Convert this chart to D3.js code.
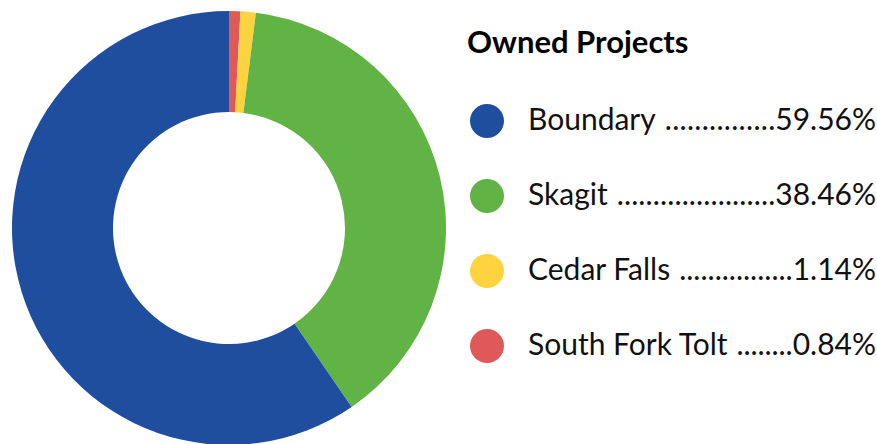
<!DOCTYPE html>
<html>
<head>
<meta charset="utf-8">
<script src="https://cdn.jsdelivr.net/npm/d3@7"></script>
<style>
  html, body { margin: 0; padding: 0; background: #ffffff; }
  svg { display: block; }
</style>
</head>
<body>
<svg id="chart" width="877" height="444"></svg>
<script>
const title = "Owned Projects";
const categories = ["Boundary", "Skagit", "Cedar Falls", "South Fork Tolt"];
const values = [59.56, 38.46, 1.14, 0.84];
const labels = ["59.56%", "38.46%", "1.14%", "0.84%"];
const colors = ["#1f4e9f", "#62b346", "#ffd23f", "#e05959"];

const svg = d3.select("#chart");
const cx = 229, cy = 228, outerR = 217, innerR = 116;

const data = categories.map((c, i) => ({ name: c, value: values[i], label: labels[i], color: colors[i] }));

// donut: drawn clockwise from 12 o'clock, smallest slices first
const pie = d3.pie().sort(null).value(d => d.value);
const arc = d3.arc().innerRadius(innerR).outerRadius(outerR);
const arcs = pie(data.slice().reverse());

svg.append("g")
  .attr("transform", `translate(${cx},${cy})`)
  .selectAll("path")
  .data(arcs)
  .join("path")
  .attr("d", arc)
  .attr("fill", d => d.data.color);

// legend
const fontFamily = "Lato, 'Open Sans', sans-serif";
const legend = svg.append("g");
legend.append("text")
  .attr("x", 467).attr("y", 53)
  .attr("font-family", fontFamily)
  .attr("font-weight", 700)
  .attr("font-size", 31)
  .attr("fill", "#000")
  .text(title);

const rowY = d3.scalePoint().domain(categories).range([121, 346]);
const rightX = 876;
const textX = 528;

const rows = legend.selectAll("g.row").data(data).join("g")
  .attr("class", "row")
  .attr("transform", d => `translate(0,${rowY(d.name)})`);

rows.append("circle")
  .attr("cx", 487).attr("cy", 0).attr("r", 17)
  .attr("fill", d => d.color);

rows.each(function(d) {
  const g = d3.select(this);
  const pct = g.append("text")
    .attr("x", rightX).attr("y", 9)
    .attr("text-anchor", "end")
    .attr("font-family", fontFamily)
    .attr("font-size", 30)
    .attr("fill", "#111")
    .text(d.label);
  const pctW = pct.node().getComputedTextLength();
  const lab = g.append("text")
    .attr("x", textX).attr("y", 9)
    .attr("font-family", fontFamily)
    .attr("font-size", 30)
    .attr("fill", "#111")
    .text(d.name);
  const labW = lab.node().getComputedTextLength();
  const dotStart = textX + labW + 9;
  const dotEnd = rightX - pctW;
  const gap = dotEnd - dotStart;
  const n = Math.max(1, Math.floor(gap / 7));
  g.append("text")
    .attr("x", dotStart).attr("y", 9)
    .attr("font-family", fontFamily)
    .attr("font-size", 30)
    .attr("fill", "#111")
    .attr("textLength", gap)
    .attr("lengthAdjust", "spacing")
    .text(".".repeat(n));
});
</script>
</body>
</html>
